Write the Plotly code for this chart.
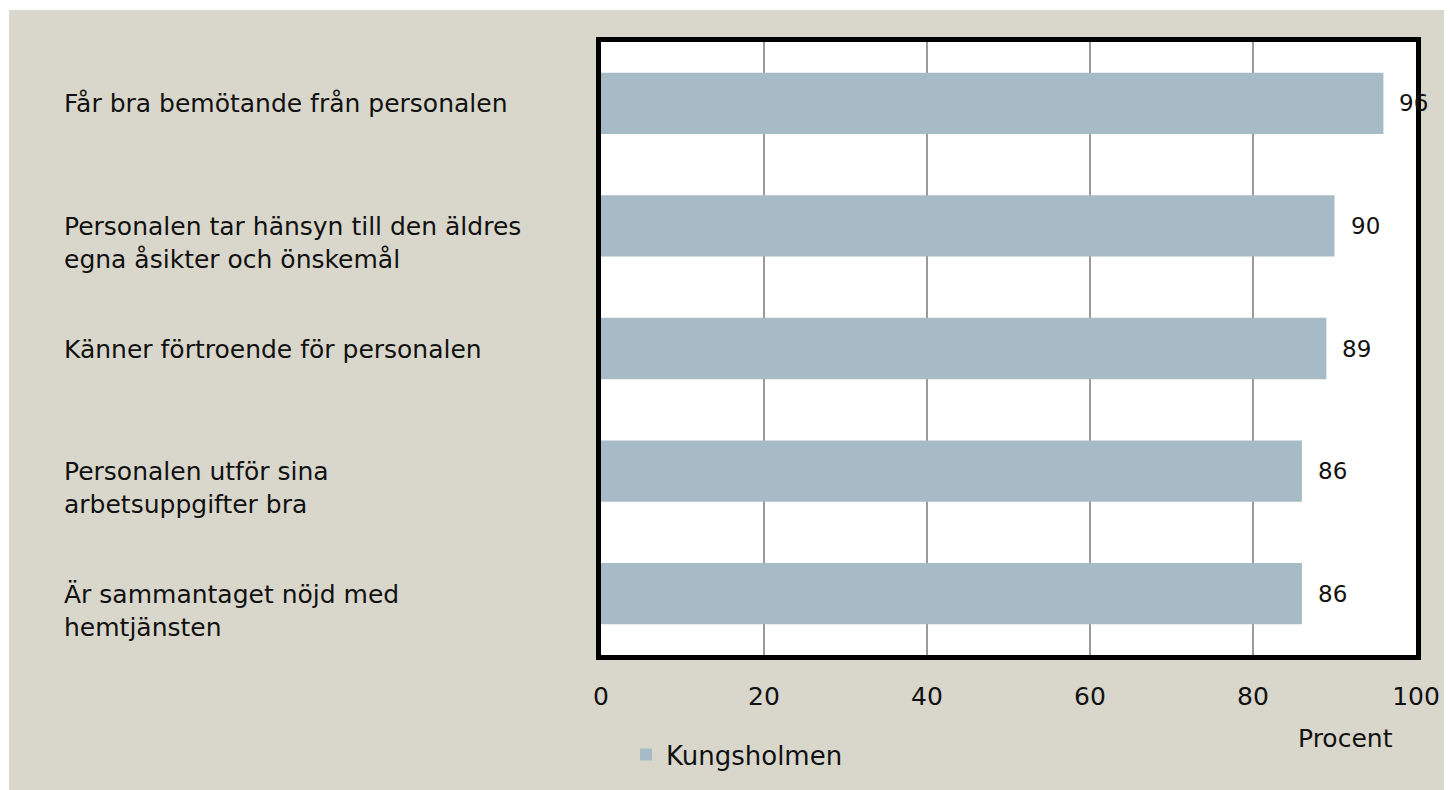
import plotly.graph_objects as go

categories = [
    "Får bra bemötande från personalen",
    "Personalen tar hänsyn till den äldres<br>egna åsikter och önskemål",
    "Känner förtroende för personalen",
    "Personalen utför sina<br>arbetsuppgifter bra",
    "Är sammantaget nöjd med<br>hemtjänsten",
]
values = [96, 90, 89, 86, 86]
series_name = "Kungsholmen"
x_ticks = [0, 20, 40, 60, 80, 100]
x_title = "Procent"

FONT = "DejaVu Sans"
BEIGE = "#D9D7CB"
BAR = "#A6BBC5"
TXT = "#111111"

OFF = 8  # page body margin
W, H = 1444, 782
L, R, T, B = 593, 36, 34, 133
pw, ph = W - L - R, H - T - B

def px(x):
    return (x - OFF - L) / pw

def py(y):
    return (H - B - (y - OFF)) / ph

ypos = list(range(len(categories)))

fig = go.Figure()
fig.add_trace(go.Bar(
    x=values, y=ypos, orientation="h", name=series_name,
    marker=dict(color=BAR, line=dict(width=0)), width=0.5,
    showlegend=True,
))

annotations = []
for i, (c, v) in enumerate(zip(categories, values)):
    annotations.append(dict(
        x=px(62), xref="paper", y=i, yref="y", text=c, showarrow=False,
        xanchor="left", yanchor="top", align="left", yshift=16,
        font=dict(family=FONT, size=25, color=TXT),
    ))
    annotations.append(dict(
        x=v, xref="x", y=i, yref="y", text=str(v), showarrow=False,
        xanchor="left", yanchor="middle", xshift=14,
        font=dict(family=FONT, size=23, color=TXT),
    ))
annotations.append(dict(
    x=px(1345), xref="paper", y=py(741), yref="paper", text=x_title,
    showarrow=False, xanchor="center", yanchor="middle",
    font=dict(family=FONT, size=25, color=TXT),
))

shapes = [
    dict(type="rect", xref="paper", yref="paper", x0=-1, x1=px(9), y0=-1, y1=2,
         fillcolor="white", line=dict(width=0), layer="above"),
    dict(type="rect", xref="paper", yref="paper", x0=-1, x1=2, y0=py(10), y1=2,
         fillcolor="white", line=dict(width=0), layer="above"),
]

fig.update_layout(
    width=W, height=H,
    margin=dict(l=L, r=R, t=T, b=B, pad=0),
    paper_bgcolor=BEIGE, plot_bgcolor="white",
    font=dict(family=FONT, size=24, color=TXT),
    annotations=annotations, shapes=shapes,
    legend=dict(orientation="h", x=px(626), xanchor="left", y=py(757), yanchor="middle",
                bgcolor="rgba(0,0,0,0)", font=dict(family=FONT, size=26, color=TXT),
                itemwidth=30),
    bargap=0.5,
)
fig.update_xaxes(
    range=[0, 100], tickvals=x_ticks, ticktext=[str(t) for t in x_ticks],
    showgrid=True, gridcolor="#9A9A9A", gridwidth=1.5, zeroline=False,
    showline=True, linecolor="black", linewidth=5, mirror=True,
    ticks="", ticklabelstandoff=15, tickfont=dict(family=FONT, size=25, color=TXT),
    fixedrange=True,
)
fig.update_yaxes(
    range=[len(categories) - 0.5, -0.5], showticklabels=False, showgrid=False,
    zeroline=False, showline=True, linecolor="black", linewidth=5, mirror=True,
    ticks="", fixedrange=True,
)
fig.write_html("out.html")
